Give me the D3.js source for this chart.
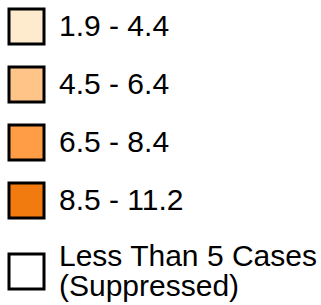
<!DOCTYPE html>
<html>
<head>
<meta charset="utf-8">
<script src="https://cdn.jsdelivr.net/npm/d3@7"></script>
<style>
  body { margin: 0; background: #fff; }
  text { font-family: "Liberation Sans", Arial, sans-serif; fill: #000; }
</style>
</head>
<body>
<div id="legend"></div>
<script>
// legend classes
var classLabels = ["1.9 - 4.4", "4.5 - 6.4", "6.5 - 8.4", "8.5 - 11.2"];
var classColors = ["#feeacd", "#fec488", "#fe9d45", "#f27b10"];
var suppressedLines = ["Less Than 5 Cases", "(Suppressed)"];

var svgWidth = 321;
var svgHeight = 305;

var svg = d3.select("#legend")
    .append("svg")
    .attr("width", svgWidth)
    .attr("height", svgHeight);

// row positions
var yScale = d3.scalePoint()
    .domain(classLabels)
    .range([9, 183]);

var boxSize = 35;

var rows = svg.selectAll("g.row")
    .data(classLabels)
    .enter()
    .append("g")
    .attr("class", "row")
    .attr("transform", d => `translate(0, ${yScale(d)})`);

rows.append("rect")
    .attr("x", 9)
    .attr("y", 0)
    .attr("width", boxSize)
    .attr("height", boxSize)
    .attr("fill", (d, i) => classColors[i])
    .attr("stroke", "#000")
    .attr("stroke-width", 3);

rows.append("text")
    .attr("x", 59)
    .attr("y", 27)
    .attr("font-size", "30px")
    .text(d => d);

// suppressed entry
var sup = svg.append("g")
    .attr("transform", "translate(0, 254)");

sup.append("rect")
    .attr("x", 9)
    .attr("y", 0)
    .attr("width", boxSize)
    .attr("height", boxSize)
    .attr("fill", "#fff")
    .attr("stroke", "#000")
    .attr("stroke-width", 3);

sup.selectAll("text")
    .data(suppressedLines)
    .enter()
    .append("text")
    .attr("x", 59)
    .attr("y", (d, i) => 12 + i * 30)
    .attr("font-size", "30px")
    .text(d => d);
</script>
</body>
</html>
